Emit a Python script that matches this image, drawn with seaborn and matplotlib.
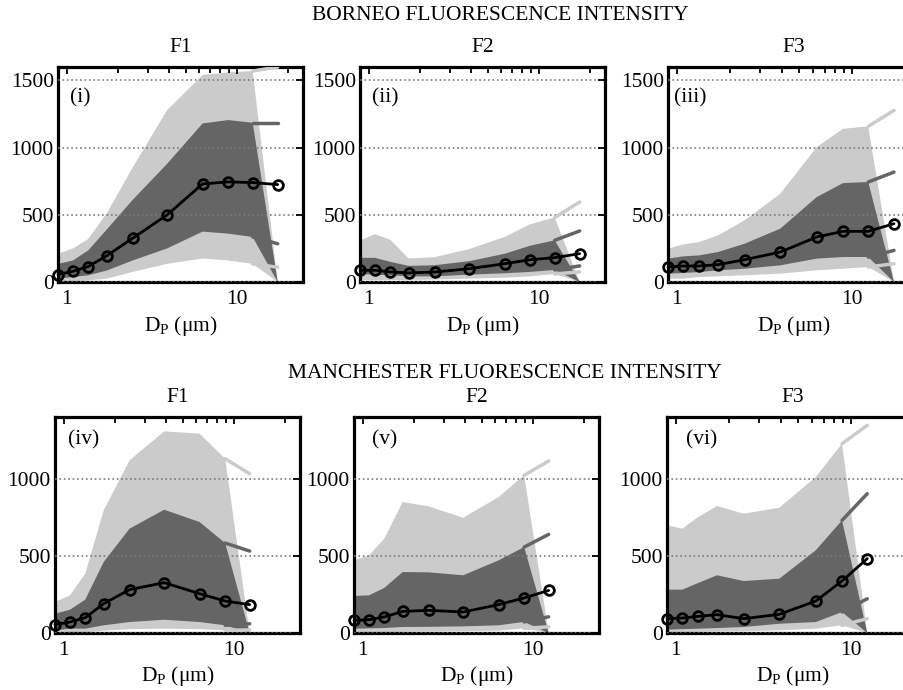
import matplotlib
matplotlib.use("Agg")
import matplotlib.pyplot as plt
import seaborn as sns
from matplotlib.ticker import FixedLocator, FixedFormatter, NullFormatter

# ---------------- data ----------------
x_top = [0.89, 1.09, 1.34, 1.72, 2.44, 3.9, 6.3, 8.9, 12.4, 17.4]
x_bot = [0.89, 1.09, 1.34, 1.72, 2.44, 3.9, 6.3, 8.9, 12.4]

# Borneo F1 (i)
b1_med = [55, 80, 115, 195, 325, 500, 730, 745, 740, 725]
b1_p90 = [210, 250, 320, 510, 850, 1280, 1540, 1560, 1570, 1600]
b1_p75 = [135, 160, 235, 390, 610, 880, 1180, 1205, 1185, 1185]
b1_p25 = [25, 37, 50, 85, 160, 250, 375, 360, 335, 285]
b1_p10 = [2, 5, 12, 25, 75, 135, 175, 160, 135, 110]

# Borneo F2 (ii)
b2_med = [87, 87, 75, 68, 74, 99, 136, 166, 181, 211]
b2_p90 = [310, 355, 315, 175, 185, 245, 335, 430, 480, 595]
b2_p75 = [180, 180, 150, 120, 125, 155, 210, 270, 310, 380]
b2_p25 = [60, 55, 50, 42, 42, 55, 65, 75, 90, 120]
b2_p10 = [15, 15, 15, 15, 18, 25, 32, 42, 60, 75]

# Borneo F3 (iii)
b3_med = [112, 119, 119, 129, 166, 223, 335, 377, 377, 434]
b3_p90 = [248, 280, 297, 347, 459, 657, 1004, 1140, 1158, 1277]
b3_p75 = [174, 191, 198, 223, 285, 397, 632, 736, 744, 818]
b3_p25 = [62, 67, 74, 87, 99, 124, 174, 186, 186, 235]
b3_p10 = [25, 25, 37, 42, 50, 62, 87, 99, 112, 136]

# Manchester F1 (iv)
m1_med = [54, 71, 99, 190, 281, 326, 255, 207, 184]
m1_p90 = [201, 244, 384, 795, 1119, 1307, 1292, 1130, 1032]
m1_p75 = [125, 151, 216, 460, 676, 799, 719, 583, 531]
m1_p25 = [17, 28, 28, 50, 71, 86, 71, 50, 60]
m1_p10 = [0, 5, 5, 15, 25, 28, 25, 17, 20]

# Manchester F2 (v)
m2_med = [82, 86, 104, 140, 147, 136, 184, 227, 276]
m2_p90 = [471, 503, 611, 849, 821, 747, 881, 1022, 1115]
m2_p75 = [240, 244, 292, 395, 393, 374, 471, 557, 639]
m2_p25 = [28, 30, 32, 39, 40, 43, 50, 72, 105]
m2_p10 = [5, 5, 5, 8, 10, 12, 15, 30, 40]

# Manchester F3 (vi)
m3_med = [93, 97, 108, 119, 93, 121, 207, 337, 482]
m3_p90 = [698, 676, 752, 823, 773, 812, 1011, 1227, 1346]
m3_p75 = [281, 281, 324, 374, 337, 352, 536, 730, 903]
m3_p25 = [22, 25, 28, 32, 39, 60, 71, 136, 222]
m3_p10 = [6, 6, 8, 10, 12, 17, 28, 50, 93]

row_titles = ["BORNEO FLUORESCENCE INTENSITY", "MANCHESTER FLUORESCENCE INTENSITY"]
col_titles = ["F1", "F2", "F3"]
panel_labels = ["(i)", "(ii)", "(iii)", "(iv)", "(v)", "(vi)"]
yticks_top = [0, 500, 1000, 1500]
yticks_bot = [0, 500, 1000]
xticks_major = [1, 10]
xtick_labels = ["1", "10"]
xticks_minor = [2, 3, 4, 5, 6, 7, 8, 9, 20]

# ---------------- style ----------------
sns.set_theme(style="white")
plt.rcParams["font.family"] = ["Liberation Serif", "DejaVu Serif"]
plt.rcParams["mathtext.fontset"] = "custom"
plt.rcParams["mathtext.rm"] = "Liberation Serif"
plt.rcParams["mathtext.it"] = "Liberation Serif:italic"
for k in ["text.color", "axes.labelcolor", "xtick.color", "ytick.color"]:
    plt.rcParams[k] = "black"

LIGHT = "#cbcbcb"
DARK = "#656565"
FS = 15.5

W, H = 904, 690
fig = plt.figure(figsize=(W / 100, H / 100), dpi=100)


def make_ax(left, top, width, height):
    return fig.add_axes([left / W, (H - top - height) / H, width / W, height / H])


def draw(ax, x, p10, p25, med, p75, p90, ymax, yticks, label, lab_pos):
    px = list(x[:-1]) + [x[-1]] + list(x[-2::-1])
    ax.fill(px, list(p90[:-1]) + [0] + list(p10[-2::-1]), color=LIGHT, lw=0, zorder=1)
    ax.fill(px, list(p75[:-1]) + [0] + list(p25[-2::-1]), color=DARK, lw=0, zorder=2)
    for arr, c in [(p90, LIGHT), (p75, DARK), (p25, DARK), (p10, LIGHT)]:
        sns.lineplot(x=x[-2:], y=arr[-2:], ax=ax, color=c, linewidth=2.5, zorder=4)
    sns.lineplot(x=x, y=med, ax=ax, color="black", linewidth=2, marker="o",
                 markersize=7, markerfacecolor="none", markeredgecolor="black",
                 markeredgewidth=2, zorder=5, clip_on=False)
    ax.set_xscale("log")
    ax.set_xlim(0.89, 24.5)
    ax.set_ylim(0, ymax)
    ax.xaxis.set_major_locator(FixedLocator(xticks_major))
    ax.xaxis.set_major_formatter(FixedFormatter(xtick_labels))
    ax.xaxis.set_minor_locator(FixedLocator(xticks_minor))
    ax.xaxis.set_minor_formatter(NullFormatter())
    ax.set_yticks(yticks)
    ax.set_yticklabels([str(v) for v in yticks])
    ax.set_axisbelow(False)
    ax.yaxis.grid(True, linestyle=":", color="#7a7a7a", linewidth=1.2)
    ax.xaxis.grid(False)
    ax.tick_params(which="both", direction="in", top=True, right=True,
                   colors="black", labelsize=FS, width=1.3)
    ax.tick_params(which="major", length=5)
    ax.tick_params(which="minor", length=4)
    ax.tick_params(axis="x", pad=6)
    ax.tick_params(axis="y", pad=3)
    for s in ax.spines.values():
        s.set_linewidth(2.3)
        s.set_color("black")
        s.set_visible(True)
    ax.set_xlabel(r"D$_\mathrm{P}$ (μm)", fontsize=FS, labelpad=3)
    ax.set_ylabel("")
    ax.text(lab_pos[0], lab_pos[1], label, transform=ax.transAxes,
            fontsize=FS, va="center", ha="left")


top_boxes = [(58, 67, 245, 215), (360, 67, 245, 215), (668, 67, 252, 215)]
bot_boxes = [(55, 417, 245, 216), (354, 417, 245, 216), (667, 417, 252, 216)]

top_data = [(b1_p10, b1_p25, b1_med, b1_p75, b1_p90),
            (b2_p10, b2_p25, b2_med, b2_p75, b2_p90),
            (b3_p10, b3_p25, b3_med, b3_p75, b3_p90)]
bot_data = [(m1_p10, m1_p25, m1_med, m1_p75, m1_p90),
            (m2_p10, m2_p25, m2_med, m2_p75, m2_p90),
            (m3_p10, m3_p25, m3_med, m3_p75, m3_p90)]

top_lab = [(0.05, 0.855), (0.05, 0.855), (0.025, 0.855)]
bot_lab = [(0.055, 0.895), (0.075, 0.895), (0.075, 0.895)]

for i in range(3):
    ax = make_ax(*top_boxes[i])
    draw(ax, x_top, *top_data[i], 1600, yticks_top, panel_labels[i], top_lab[i])
    ax.set_title(col_titles[i], fontsize=FS, pad=11)
for i in range(3):
    ax = make_ax(*bot_boxes[i])
    draw(ax, x_bot, *bot_data[i], 1400, yticks_bot, panel_labels[i + 3], bot_lab[i])
    ax.set_title(col_titles[i], fontsize=FS, pad=11)

fig.text(500 / W, 1 - 16 / H, row_titles[0], fontsize=FS, ha="center", va="center")
fig.text(505 / W, 1 - 373 / H, row_titles[1], fontsize=FS, ha="center", va="center")

fig.savefig("out.png", dpi=100)
